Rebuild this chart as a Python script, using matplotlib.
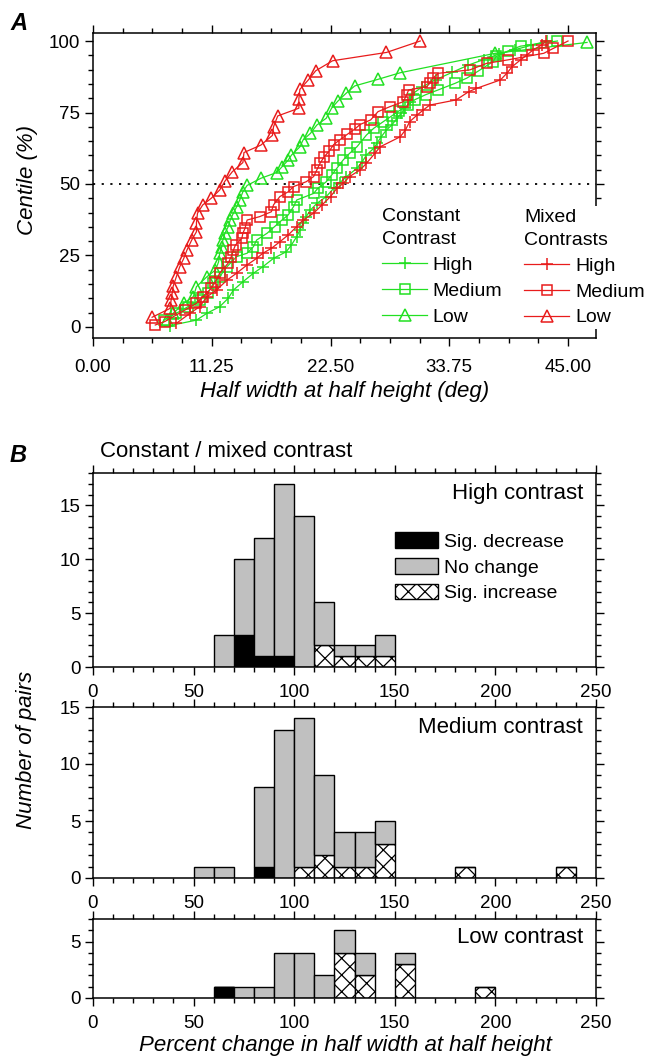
import numpy as np
import matplotlib
matplotlib.use('Agg')
import matplotlib.pyplot as plt
from matplotlib.ticker import MultipleLocator, FixedLocator
from matplotlib.patches import Patch

plt.rcParams['font.family'] = ['Liberation Sans', 'DejaVu Sans']
plt.rcParams['hatch.linewidth'] = 0.9
plt.rcParams['axes.linewidth'] = 1.1

# ---- panel A: cumulative distributions of half width (deg) ----
const_high_x = [7.3, 9.8, 10.8, 12.0, 12.8, 13.3, 14.2, 15.2, 16.1, 17.1, 18.3, 18.8, 19.3, 19.6, 19.9,
                20.2, 20.6, 21.2, 22.1, 22.8, 23.4, 24.0, 25.0, 25.5, 25.9, 26.6, 26.9, 27.3, 27.8, 28.3,
                28.8, 29.2, 29.6, 30.0, 30.3, 31.2, 32.5, 34.0, 35.5, 37.0, 38.5, 40.0, 41.5, 43.0]
const_high_y = [0.5, 2.4, 4.8, 7.1, 10.0, 12.9, 15.8, 18.8, 21.1, 24.0, 26.3, 28.7, 31.6, 33.9, 36.3,
                38.6, 40.9, 43.2, 45.6, 48.5, 50.5, 52.5, 55.5, 57.8, 60.1, 62.5, 64.2, 66.5, 68.9, 70.6,
                73.0, 74.7, 76.5, 78.8, 81.6, 84.0, 86.5, 89.0, 91.5, 93.5, 95.5, 97.0, 98.5, 100.0]

const_med_x = [6.7, 7.9, 9.0, 10.1, 10.9, 11.4, 12.0, 12.7, 13.6, 14.6, 15.2, 15.5, 16.5, 17.2, 17.9,
               18.5, 19.0, 19.3, 20.9, 21.3, 22.1, 22.6, 23.1, 23.7, 24.3, 25.0, 25.9, 26.6, 27.5, 28.3,
               29.0, 29.8, 30.5, 31.5, 32.7, 34.3, 35.4, 36.5, 37.9, 38.2, 39.3, 40.5, 44.0]
const_med_y = [2.4, 4.8, 7.1, 9.4, 11.8, 15.3, 17.6, 21.1, 24.6, 25.8, 28.1, 30.4, 32.8, 35.1, 37.4,
               39.2, 42.1, 44.4, 46.7, 48.5, 50.8, 53.1, 55.5, 58.4, 60.7, 63.0, 67.1, 69.5, 71.8, 73.8,
               75.6, 77.5, 79.5, 81.2, 82.9, 85.2, 87.0, 89.5, 92.8, 94.6, 96.5, 98.2, 100.0]

const_low_x = [7.0, 7.6, 8.6, 9.5, 9.8, 10.8, 11.6, 11.9, 12.0, 12.2, 12.3, 12.5, 12.8, 13.0, 13.3,
               13.6, 13.9, 14.2, 14.6, 15.9, 17.4, 17.9, 18.5, 18.8, 19.6, 19.9, 20.6, 21.2, 22.1, 22.6,
               23.2, 24.0, 24.8, 27.0, 29.1, 38.1, 46.8]
const_low_y = [2.4, 4.8, 8.3, 10.6, 14.1, 17.6, 19.9, 22.8, 25.8, 28.1, 30.4, 32.8, 35.0, 37.4, 39.8,
               42.0, 44.4, 47.3, 49.5, 52.0, 54.0, 56.0, 58.4, 60.1, 63.0, 65.4, 67.7, 70.6, 73.0, 76.5,
               79.0, 81.8, 84.3, 86.6, 88.9, 95.7, 99.5]

mixed_high_x = [7.9, 9.2, 10.1, 10.8, 11.7, 12.7, 13.6, 14.6, 15.5, 16.1, 16.9, 17.7, 18.5, 19.3, 19.9,
                20.9, 21.7, 22.5, 23.1, 23.7, 24.3, 25.3, 25.9, 26.7, 27.2, 29.1, 29.6, 30.0, 30.7, 31.3,
                31.9, 34.4, 35.6, 36.3, 38.6, 39.2, 39.7, 40.5, 41.1, 41.7, 42.5, 42.9]
mixed_high_y = [1.3, 4.8, 7.1, 10.6, 12.9, 16.4, 18.8, 21.7, 24.0, 25.8, 27.5, 29.8, 32.2, 35.1, 37.4,
                39.8, 42.7, 45.6, 48.5, 50.2, 52.6, 54.9, 57.2, 60.7, 63.0, 66.5, 68.9, 71.8, 74.1, 75.9,
                77.6, 79.4, 82.3, 83.4, 86.4, 88.7, 91.0, 93.4, 95.1, 96.9, 98.6, 100.0]

mixed_med_x = [5.9, 6.8, 8.7, 9.8, 10.4, 11.2, 11.6, 12.0, 12.8, 13.1, 13.3, 13.5, 14.1, 14.2, 14.4,
               14.6, 15.8, 16.9, 17.1, 17.7, 18.5, 19.0, 20.2, 20.9, 21.2, 21.5, 21.9, 22.4, 22.8, 23.4,
               24.1, 24.8, 25.3, 26.3, 27.0, 28.1, 29.4, 29.7, 29.9, 31.6, 31.9, 32.2, 32.7, 35.7, 37.3,
               39.3, 42.7, 43.6, 45.0]
mixed_med_y = [0.7, 1.9, 5.9, 8.3, 10.6, 13.5, 15.8, 18.8, 22.3, 24.6, 26.9, 28.7, 31.0, 32.8, 34.5,
               37.4, 38.6, 40.3, 42.7, 45.6, 47.3, 49.1, 50.8, 52.6, 54.9, 57.2, 59.5, 61.6, 63.8, 65.5,
               67.4, 69.2, 70.8, 72.4, 75.3, 77.0, 78.8, 81.1, 82.9, 84.0, 85.2, 87.0, 88.7, 89.9, 92.2,
               93.4, 95.7, 97.4, 100.0]

mixed_low_x = [5.6, 7.3, 7.4, 7.5, 7.6, 7.9, 8.2, 8.6, 8.9, 9.35, 9.8, 9.8, 9.9, 10.4, 11.2,
               12.0, 12.5, 13.2, 14.2, 14.3, 15.9, 17.0, 17.1, 17.5, 19.5, 19.5, 19.6, 20.4, 21.1, 22.7,
               27.8, 31.0]
mixed_low_y = [3.4, 6.5, 9.4, 11.8, 14.3, 17.6, 20.9, 24.0, 26.9, 30.4, 33.3, 36.5, 39.8, 42.7, 45.0,
               47.9, 51.0, 54.3, 57.5, 61.0, 63.6, 67.0, 70.0, 73.8, 76.5, 79.7, 83.1, 86.4, 89.6, 93.1,
               96.0, 100.0]

levels = ['High', 'Medium', 'Low']

# ---- panel B: histograms of percent change (10 % bins, left edges) ----
high_left = [60, 70, 80, 90, 100, 110, 120, 130, 140]
high_total = [3, 10, 12, 17, 14, 6, 2, 2, 3]
high_dec = [0, 3, 1, 1, 0, 0, 0, 0, 0]
high_inc = [0, 0, 0, 0, 0, 2, 1, 1, 1]

med_left = [50, 60, 80, 90, 100, 110, 120, 130, 140, 180, 230]
med_total = [1, 1, 8, 13, 14, 9, 4, 4, 5, 1, 1]
med_dec = [0, 0, 1, 0, 0, 0, 0, 0, 0, 0, 0]
med_inc = [0, 0, 0, 0, 1, 2, 1, 1, 3, 1, 1]

low_left = [60, 70, 80, 90, 100, 110, 120, 130, 150, 190]
low_total = [1, 1, 1, 4, 4, 2, 6, 4, 4, 1]
low_dec = [1, 0, 0, 0, 0, 0, 0, 0, 0, 0]
low_inc = [0, 0, 0, 0, 0, 0, 4, 2, 3, 1]

GREEN = '#22e022'
RED = '#e81c1c'
GRAY = '#c0c0c0'
W, H = 648, 1060
FS = 13.5

fig = plt.figure(figsize=(W / 100, H / 100), dpi=100)


def px_axes(left, top, right, bottom):
    return fig.add_axes([left / W, 1 - bottom / H, (right - left) / W, (bottom - top) / H])


def style_ticks(ax, xpad):
    ax.tick_params(which='both', direction='out', top=True, right=True, width=1.0, labelsize=FS)
    ax.tick_params(which='major', length=6)
    ax.tick_params(which='minor', length=3.5)
    ax.tick_params(axis='x', pad=xpad)
    ax.tick_params(axis='y', pad=3)


# panel A
axA = px_axes(93, 33, 596, 338)
series = [
    (const_high_x, const_high_y, '+', GREEN, 9),
    (const_med_x, const_med_y, 's', GREEN, 7),
    (const_low_x, const_low_y, '^', GREEN, 8.5),
    (mixed_high_x, mixed_high_y, '+', RED, 9),
    (mixed_med_x, mixed_med_y, 's', RED, 7),
    (mixed_low_x, mixed_low_y, '^', RED, 8.5),
]
handles = []
for x, y, m, c, ms in series:
    h, = axA.plot(x, y, marker=m, color=c, mfc='none', ms=ms, mew=1.1, lw=0.9)
    handles.append(h)
axA.axhline(50, color='black', ls=(0, (1.2, 3.6)), lw=1.3, zorder=1)
axA.set_xlim(0, 47.65)
axA.set_ylim(-3.85, 102.8)
xt = [0, 11.25, 22.5, 33.75, 45]
axA.xaxis.set_major_locator(FixedLocator(xt))
axA.set_xticklabels(['%.2f' % v for v in xt])
axA.xaxis.set_minor_locator(MultipleLocator(2.8125))
axA.yaxis.set_major_locator(FixedLocator([0, 25, 50, 75, 100]))
axA.yaxis.set_minor_locator(MultipleLocator(5))
style_ticks(axA, 9)

leg_kw = dict(loc='upper left', handlelength=2.3, handletextpad=0.3, labelspacing=0.42,
              fontsize=14, title_fontsize=14, alignment='left', borderaxespad=0)
leg1 = axA.legend(handles[:3], levels, title='Constant\nContrast', bbox_to_anchor=(0.575, 0.425),
                  frameon=False, borderpad=0, **leg_kw)
leg1.get_title().set_linespacing(1.45)
axA.add_artist(leg1)
leg2 = axA.legend(handles[3:], levels, title='Mixed\nContrasts', bbox_to_anchor=(0.852, 0.432),
                  frameon=True, borderpad=0.15, fancybox=False, **leg_kw)
leg2.get_title().set_linespacing(1.45)
leg2.get_frame().set_facecolor('white')
leg2.get_frame().set_edgecolor('none')
leg2.get_frame().set_alpha(1)
leg2.set_zorder(5)
leg2.set_clip_on(False)

fig.text(10 / W, 1 - 30 / H, 'A', fontsize=17, fontweight='bold', style='italic', ha='left', va='baseline')
fig.text(27 / W, 1 - 180 / H, 'Centile (%)', fontsize=16, style='italic', rotation=90,
         ha='center', va='center')
fig.text(345 / W, 1 - 391 / H, 'Half width at half height (deg)', fontsize=16, style='italic',
         ha='center', va='center')

# panel B
hists = [
    ((473, 667), 18, [0, 5, 10, 15], high_left, high_total, high_dec, high_inc, 'High contrast', 0.892),
    ((707, 878), 15, [0, 5, 10, 15], med_left, med_total, med_dec, med_inc, 'Medium contrast', 0.883),
    ((919, 998), 7, [0, 5], low_left, low_total, low_dec, low_inc, 'Low contrast', 0.772),
]
hist_axes = []
for (top, bot), ymax, yt, left, total, dec, inc, name, ty in hists:
    ax = px_axes(93, top, 596, bot)
    left = np.array(left)
    total = np.array(total)
    dec = np.array(dec)
    inc = np.array(inc)
    nochg = total - dec - inc
    ax.bar(left, dec, width=10, align='edge', color='black', edgecolor='black', lw=1.0)
    ax.bar(left, inc, width=10, bottom=dec, align='edge', facecolor='white', edgecolor='black',
           hatch='xx', lw=1.0)
    ax.bar(left, nochg, width=10, bottom=dec + inc, align='edge', color=GRAY, edgecolor='black', lw=1.0)
    ax.set_xlim(0, 250)
    ax.set_ylim(0, ymax)
    ax.xaxis.set_major_locator(MultipleLocator(50))
    ax.xaxis.set_minor_locator(MultipleLocator(10))
    ax.yaxis.set_major_locator(FixedLocator(yt))
    ax.yaxis.set_minor_locator(MultipleLocator(1))
    style_ticks(ax, 6)
    ax.text(0.974, ty, name, transform=ax.transAxes, ha='right', va='center', fontsize=16)
    hist_axes.append(ax)

leg_patches = [Patch(facecolor='black', edgecolor='black'),
               Patch(facecolor=GRAY, edgecolor='black'),
               Patch(facecolor='white', edgecolor='black', hatch='xx')]
hist_axes[0].legend(leg_patches, ['Sig. decrease', 'No change', 'Sig. increase'], loc='upper left',
                    bbox_to_anchor=(0.600, 0.695), frameon=False, fontsize=14, handlelength=2.2,
                    handleheight=0.85, handletextpad=0.35, labelspacing=0.38, borderpad=0,
                    borderaxespad=0)

fig.text(10 / W, 1 - 462 / H, 'B', fontsize=17, fontweight='bold', style='italic', ha='left', va='baseline')
fig.text(100 / W, 1 - 451 / H, 'Constant / mixed contrast', fontsize=16, ha='left', va='center')
fig.text(27 / W, 1 - 750 / H, 'Number of pairs', fontsize=16, style='italic', rotation=90,
         ha='center', va='center')
fig.text(345 / W, 1 - 1046 / H, 'Percent change in half width at half height', fontsize=16,
         style='italic', ha='center', va='center')

fig.savefig('out.png', dpi=100)
